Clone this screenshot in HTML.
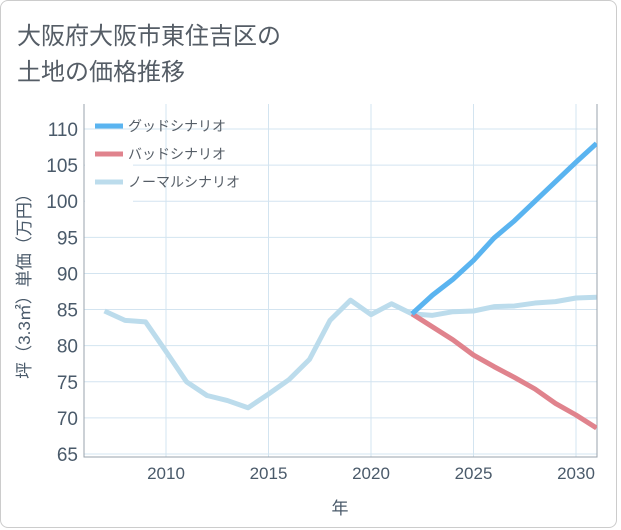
<!DOCTYPE html>
<html><head><meta charset="utf-8"><style>
body{margin:0;background:#fff;}
#wrap{position:relative;width:621px;height:530px;overflow:hidden;}
#frame{position:absolute;left:0;top:0;width:615px;height:526px;border:1px solid #ccc;border-radius:8px;box-sizing:content-box;}
.t{position:absolute;left:17px;font-family:"Liberation Sans","Noto Sans CJK JP",sans-serif;font-size:24px;color:#555d66;}
svg{position:absolute;left:0;top:0;}
text{font-family:"Liberation Sans","Noto Sans CJK JP",sans-serif;}
</style></head><body>
<div id="wrap">
<div id="frame"></div>
<div class="t" style="top:16px">大阪府大阪市東住吉区の</div>
<div class="t" style="top:52px">土地の価格推移</div>
<svg id="chart" width="621" height="530"></svg>
</div>
<script>
const years=[2007,2008,2009,2010,2011,2012,2013,2014,2015,2016,2017,2018,2019,2020,2021,2022,2023,2024,2025,2026,2027,2028,2029,2030,2031];
const normalVals=[84.8,83.5,83.3,79.2,75.0,73.1,72.4,71.4,73.3,75.3,78.1,83.5,86.3,84.3,85.8,84.4,84.2,84.7,84.8,85.4,85.5,85.9,86.1,86.6,86.7];
const futureYears=[2022,2023,2024,2025,2026,2027,2028,2029,2030,2031];
const goodVals=[84.4,87.0,89.2,91.8,94.9,97.3,100.0,102.7,105.4,108.0];
const badVals=[84.4,82.6,80.8,78.7,77.1,75.6,74.0,72.0,70.4,68.6];
const yTicks=[65,70,75,80,85,90,95,100,105,110];
const xTicks=[2010,2015,2020,2025,2030];
const L=84,R=597,T=104,B=457;
const X=v=>166+(v-2010)*20.5;
const Y=v=>454-(v-65)*(325/45);
const ns="http://www.w3.org/2000/svg";
const svg=document.getElementById('chart');
function mk(tag,attrs){const e=document.createElementNS(ns,tag);for(const k in attrs)e.setAttribute(k,attrs[k]);svg.appendChild(e);return e;}
yTicks.forEach(v=>{
 const l=mk('line',{x1:L,x2:R,y1:Y(v),y2:Y(v),stroke:'#d3e4f0','stroke-width':1});
 
 
 const t=mk('text',{x:L-6,y:Y(v)+7,'text-anchor':'end','font-size':19,fill:'#4a5a6a'});
 t.textContent=v;
 
 
});
xTicks.forEach(v=>{
 const l=mk('line',{x1:X(v),x2:X(v),y1:T,y2:B,stroke:'#d3e4f0','stroke-width':1});
 
 
 const t=mk('text',{x:X(v),y:B+22,'text-anchor':'middle','font-size':17,fill:'#4a5a6a'});
 t.textContent=v;
 
 
});
const ax=mk('path',{d:`M${L},${T}V${B}H${R}V${T}`,fill:'none',stroke:'#99a3ad','stroke-width':1});


function line(xs,ys,color,name){
 const p=mk('polyline',{points:xs.map((x,i)=>X(x)+','+Y(ys[i])).join(' '),fill:'none',stroke:color,'stroke-width':5,'stroke-linejoin':'round'});
 
 
}
const cp=mk('clipPath',{id:'cp'});
const cr=document.createElementNS(ns,'rect');cr.setAttribute('x',L);cr.setAttribute('y',T);cr.setAttribute('width',R-L);cr.setAttribute('height',B-T);cp.appendChild(cr);
const g=mk('g',{'clip-path':'url(#cp)'});


line(years,normalVals,'#bcdcec','normal-scenario-line');
line(futureYears,badVals,'#e0838d','bad-scenario-line');
line(futureYears,goodVals,'#5ab4f0','good-scenario-line');
[...svg.querySelectorAll('polyline')].forEach(p=>g.appendChild(p));
const lg=[['グッドシナリオ','#5ab4f0'],['バッドシナリオ','#e0838d'],['ノーマルシナリオ','#bcdcec']];
const bg=mk('rect',{x:85,y:138,width:48,height:66,fill:'#fff'});


lg.forEach((d,i)=>{
 const y=126+i*28;
 const s=mk('line',{x1:95,x2:123,y1:y,y2:y,stroke:d[1],'stroke-width':5});
 
 
 const t=mk('text',{x:128,y:y+5,'font-size':14,fill:'#555d66'});
 t.textContent=d[0];
 
 
});
const yt=mk('text',{transform:'translate(30,282) rotate(-90)','text-anchor':'middle','font-size':17,fill:'#4a5a6a'});
yt.textContent='坪（3.3㎡）単価（万円）';


const xt=mk('text',{x:340,y:514,'text-anchor':'middle','font-size':17,fill:'#4a5a6a'});
xt.textContent='年';


</script>
</body></html>
